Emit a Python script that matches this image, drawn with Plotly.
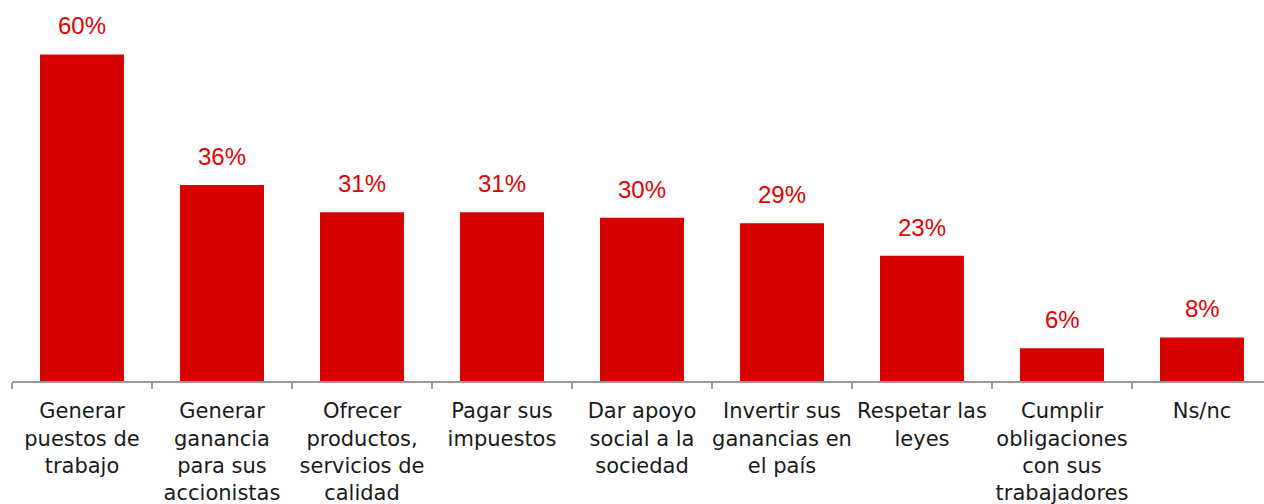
import plotly.graph_objects as go

categories = [
    "Generar<br>puestos de<br>trabajo",
    "Generar<br>ganancia<br>para sus<br>accionistas",
    "Ofrecer<br>productos,<br>servicios de<br>calidad",
    "Pagar sus<br>impuestos",
    "Dar apoyo<br>social a la<br>sociedad",
    "Invertir sus<br>ganancias en<br>el país",
    "Respetar las<br>leyes",
    "Cumplir<br>obligaciones<br>con sus<br>trabajadores",
    "Ns/nc",
]
values = [60, 36, 31, 31, 30, 29, 23, 6, 8]

BAR_COLOR = "#D90000"
LABEL_COLOR = "#E60000"

fig = go.Figure(
    go.Bar(
        x=categories,
        y=values,
        marker=dict(color=BAR_COLOR, line=dict(width=0)),
        width=0.6,
        hoverinfo="skip",
    )
)

for cat, v in zip(categories, values):
    fig.add_annotation(
        x=cat, y=v, text=f"{v}%", showarrow=False,
        yanchor="bottom", yshift=13,
        font=dict(family="Liberation Sans", size=24, color=LABEL_COLOR),
    )

fig.update_layout(
    width=1264, height=504,
    margin=dict(l=12, r=0, t=0, b=123),
    paper_bgcolor="white", plot_bgcolor="white",
    showlegend=False,
    bargap=0.4,
    xaxis=dict(
        type="category",
        range=[-0.5, -0.5 + 1252 / 140],
        automargin=False,
        tickangle=0,
        ticklabelstandoff=10,
        showline=True, linecolor="#9a9a9a", linewidth=2,
        ticks="outside", tickson="boundaries", ticklen=6,
        tickcolor="#9a9a9a", tickwidth=2,
        tickfont=dict(family="DejaVu Sans", size=21, color="#1a1a1a"),
        showgrid=False, zeroline=False,
    ),
    yaxis=dict(
        range=[0, 70], visible=False, showgrid=False, zeroline=False,
    ),
)

fig.write_html("out.html")
